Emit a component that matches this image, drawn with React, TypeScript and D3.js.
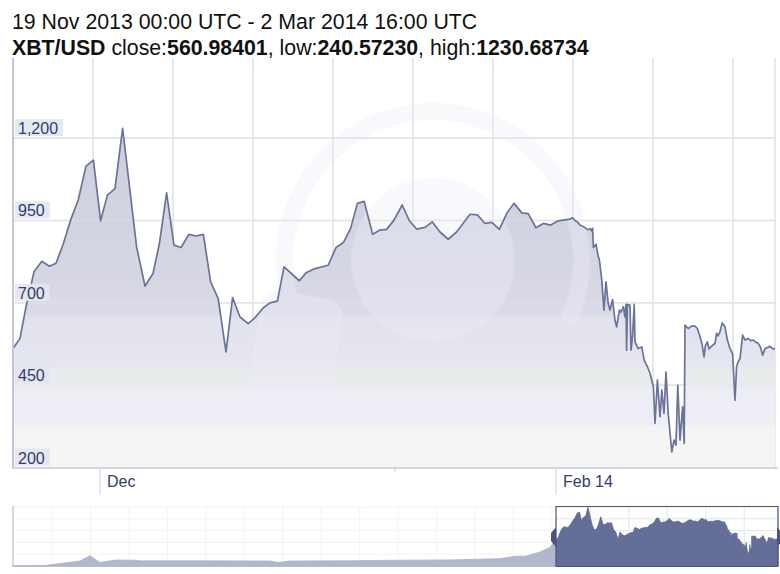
import React from "react";
import * as d3 from "d3";

// ---------- texts ----------
const rangeTitle = "19 Nov 2013 00:00 UTC - 2 Mar 2014 16:00 UTC";
const symbol = "XBT/USD";
const closeValue = "560.98401";
const lowValue = "240.57230";
const highValue = "1230.68734";

// ---------- axes ----------
const yTicks = [200, 450, 700, 950, 1200];
const xTickLabels = ["Dec", "Feb 14"];
const xTickSlots = [21.75, 135.75];
const minorTickSlots = [95.5];
const gridSlots = [20, 40, 60, 80, 100, 120, 140, 160, 180];

// ---------- main series (ordinal slot, price) ----------
const priceSlots = [
  0, 1.75, 3.25, 5.25, 7.2, 9.1, 10.75, 12.6, 14.4, 16.3, 18.25, 20.1, 21.9, 23.6, 25.5, 27.4,
  30.9, 33, 35, 36.6, 38.4, 40.25, 42, 44, 45.75, 47.6, 49.4, 51.3, 53.25, 54.9, 56.75, 58.8,
  60.5, 62.6, 64.25, 66.1, 67.75, 71.6, 73.25, 75.5, 78.8, 80.75, 82.6, 84.4, 86.1, 87.8, 89.9,
  91.75, 93.4, 95.25, 97.3, 99.1, 100.9, 103, 104.8, 106.75, 108.8, 110.9, 114.25, 116.1, 118,
  119.7, 121.6, 123.4, 125.25, 127.2, 128.8, 130.75, 132.6, 134.4, 136.3, 139.25, 139.9,
  140.5, 141.25, 141.75, 142.5, 143.25, 143.75, 144.4, 144.7, 144.9, 145.1, 145.75, 146.3,
  146.6, 147.2, 147.75, 148.25, 148.8, 149.25, 149.9, 150.5, 150.9, 151.6, 152, 152.6, 153,
  153.25, 153.4, 153.6, 154.25, 154.5, 154.9, 155.3, 155.5, 156.3, 157.2, 157.8, 158.6, 159.25,
  160.1, 160.5, 161.1, 161.75, 162.2, 162.75, 163.25, 163.8, 164.7, 165.25, 165.75, 166.2,
  166.75, 167.4, 167.8, 168, 168.8, 169.75, 170.5, 171.1, 171.75, 172.25, 172.75, 173.1, 173.6,
  174, 174.4, 175, 175.5, 175.9, 176.25, 176.75, 177.3, 178, 178.6, 179.25, 179.9, 180.5,
  180.9, 181.25, 181.75, 182.4, 183, 183.8, 184.5, 185.1, 185.75, 186.3, 186.9, 187.4, 188,
  188.75, 189.25, 190, 190.5,
];
const priceValues = [
  561, 592, 688, 794, 826, 811, 820, 880, 951, 1012, 1115, 1133, 949, 1027, 1047, 1230,
  870, 751, 789, 880, 1034, 875, 868, 908, 903, 908, 764, 713, 551, 716, 657, 637,
  655, 685, 700, 705, 809, 767, 791, 804, 814, 868, 883, 926, 1002, 1008, 908,
  921, 923, 951, 997, 949, 924, 929, 946, 915, 893, 915, 969, 967, 941,
  944, 923, 971, 1002, 973, 971, 928, 941, 936, 949, 954, 958,
  950, 944, 936, 932, 926, 922, 925, 918, 926, 868, 878, 842,
  830, 769, 678, 764, 698, 678, 710, 647, 627, 678, 672, 688, 657,
  695, 556, 695, 693, 556, 600, 695, 581, 561, 566, 526, 506, 486,
  445, 334, 465, 354, 435, 364, 490, 364, 247, 283, 268, 450,
  283, 384, 273, 632, 622, 630, 629, 622, 597, 575, 536, 570, 581,
  560, 566, 572, 577, 607, 600, 612, 639, 627, 587, 561, 546, 404,
  506, 520, 531, 602, 587, 592, 585, 587, 580, 577, 565, 541, 561,
  565, 568, 560, 561,
];

// ---------- navigator history (navigator slot, price) ----------
const historySlots = [0, 27.5, 40, 57.5, 66, 74.7, 87.5, 104.7, 109, 160.5, 220.6, 227.5, 237.8, 289.3, 332.2, 375, 418, 431, 439.5, 452.4, 461];
const historyValues = [5, 10, 50, 105, 215, 75, 125, 122, 108, 108, 106, 75, 105, 110, 122, 128, 155, 205, 205, 295, 395];
const navOffset = 466; // slot where the main series begins in the navigator
const navTotal = 656.5;

const W = 780;
const H = 574;

export default function App() {
  const x = d3.scaleLinear().domain([0, 190.5]).range([13, 775]);
  const y = d3.scaleLinear().domain([200, 1450]).range([467.5, 55.8]);

  const data = priceSlots.map((s, i) => ({ s, v: priceValues[i] }));
  const area = d3
    .area<{ s: number; v: number }>()
    .x((d) => x(d.s))
    .y0(y(200))
    .y1((d) => y(d.v));
  const line = d3
    .line<{ s: number; v: number }>()
    .x((d) => x(d.s))
    .y((d) => y(d.v));

  // navigator
  const nx = d3.scaleLinear().domain([0, navTotal]).range([13, 778]);
  const ny = d3.scaleLinear().domain([0, 1240]).range([566, 507]);
  const navData = [
    ...historySlots.map((s, i) => ({ s, v: historyValues[i] })),
    ...data.map((d) => ({ s: d.s + navOffset, v: d.v })),
  ];
  const navArea = d3
    .area<{ s: number; v: number }>()
    .x((d) => nx(d.s))
    .y0(ny(0))
    .y1((d) => ny(d.v));
  const navGrid = d3.range(33.5, navTotal, 33);
  const navHGrid = d3.range(0, 1241, 248);
  const selL = nx(navOffset);
  const selR = nx(navTotal);

  // watermark
  const wmCx = 433;
  const wmCy = 260;
  const ring = d3.arc()({ innerRadius: 140, outerRadius: 157, startAngle: -2.05, endAngle: 2.0 }) as string;

  const font = "Arial, 'Liberation Sans', Helvetica, sans-serif";
  const labelColor = "#323d6c";

  return (
    <div style={{ position: "fixed", left: 0, top: 0, width: W, height: H, background: "#fff" }}>
      <svg width={W} height={H} style={{ display: "block" }} fontFamily={font}>
        <defs>
          <linearGradient id="areaGrad" gradientUnits="userSpaceOnUse" x1="0" y1={y(1230)} x2="0" y2={y(200)}>
            <stop offset="0" stopColor="#cdcfde" />
            <stop offset="0.45" stopColor="#d6d7e3" />
            <stop offset="0.55" stopColor="#dbdce7" />
            <stop offset="0.56" stopColor="#e1e2ec" />
            <stop offset="0.7" stopColor="#e5e6ef" />
            <stop offset="0.71" stopColor="#e8ebeb" />
            <stop offset="0.76" stopColor="#e9ecec" />
            <stop offset="0.77" stopColor="#ecedf5" />
            <stop offset="0.87" stopColor="#eeeff6" />
            <stop offset="0.88" stopColor="#f4f4f5" />
            <stop offset="1" stopColor="#f5f5f6" />
          </linearGradient>
          <clipPath id="plotClip">
            <rect x={13} y={55} width={762} height={413} />
          </clipPath>
        </defs>

        {/* title */}
        <text x={12} y={29} fontSize={21.3} fill="#111">{rangeTitle}</text>
        <text x={12} y={55} fontSize={21.3} fill="#111">
          <tspan fontWeight="bold">{symbol}</tspan>
          <tspan> close:</tspan>
          <tspan fontWeight="bold">{closeValue}</tspan>
          <tspan>, low:</tspan>
          <tspan fontWeight="bold">{lowValue}</tspan>
          <tspan>, high:</tspan>
          <tspan fontWeight="bold">{highValue}</tspan>
        </text>

        {/* grid */}
        {gridSlots.map((g) => (
          <line key={"vg" + g} x1={x(g)} x2={x(g)} y1={58} y2={y(200)} stroke="#e3e3e6" strokeWidth={1.6} />
        ))}
        {yTicks.slice(1).map((t) => (
          <line key={"hg" + t} x1={13} x2={775} y1={y(t)} y2={y(t)} stroke="#e3e3e6" strokeWidth={1.6} />
        ))}
        <line x1={775} x2={775} y1={58} y2={y(200)} stroke="#dcdce2" strokeWidth={1.2} />

        {/* series */}
        <g clipPath="url(#plotClip)">
          <path d={area(data) as string} fill="url(#areaGrad)" />
          {/* watermark */}
          <g fill="#ededfa" opacity={0.38}>
            <path d={ring} transform={`translate(${wmCx},${wmCy})`} />
            <circle cx={wmCx} cy={wmCy} r={82} />
            <path d="M262,300 Q268,288 282,290 L330,300 Q344,304 342,318 L332,392 Q330,404 316,402 L258,392 Q246,390 248,378 Z" />
          </g>
          {yTicks.slice(1).map((t) => (
            <line key={"hg2" + t} x1={13} x2={775} y1={y(t)} y2={y(t)} stroke="#e3e3e6" strokeWidth={1.2} opacity={0.6} />
          ))}
          <path d={line(data) as string} fill="none" stroke="#6b7399" strokeWidth={1.7} strokeLinejoin="round" />
        </g>

        {/* axes lines */}
        <line x1={13} x2={13} y1={58} y2={y(200) + 1} stroke="#c3c6d8" strokeWidth={2} />
        <line x1={13} x2={778} y1={y(200) + 0.5} y2={y(200) + 0.5} stroke="#c6cad8" strokeWidth={1.6} />

        {/* y labels */}
        {yTicks.map((t) => {
          const label = d3.format(",")(t);
          const w = label.length * 8.9 + (label.includes(",") ? -4.45 : 0) + 8;
          return (
            <g key={"yl" + t}>
              <rect x={15} y={y(t) - 19} width={w} height={17} fill="#e3e5ee" opacity={0.9} />
              <text x={18} y={y(t) - 4} fontSize={16} fill={labelColor}>{label}</text>
            </g>
          );
        })}

        {/* x ticks and labels */}
        {xTickSlots.map((s, i) => (
          <g key={"xt" + i}>
            <line x1={x(s)} x2={x(s)} y1={y(200) + 1} y2={495} stroke="#d0d3dc" strokeWidth={1} />
            <text x={x(s) + 7} y={487} fontSize={16} fill={labelColor}>{xTickLabels[i]}</text>
          </g>
        ))}
        {minorTickSlots.map((s) => (
          <line key={"mt" + s} x1={x(s)} x2={x(s)} y1={y(200)} y2={y(200) + 4} stroke="#b8bccc" strokeWidth={1} />
        ))}

        {/* navigator */}
        <g>
          {navGrid.map((g) => (
            <line key={"ng" + g} x1={nx(g)} x2={nx(g)} y1={507} y2={566} stroke="#e6e6e8" strokeWidth={1} />
          ))}
          {navHGrid.map((g) => (
            <line key={"nh" + g} x1={13} x2={778} y1={ny(g)} y2={ny(g)} stroke="#e6e6e8" strokeWidth={1} />
          ))}
          <path d={navArea(navData) as string} fill="#656e98" stroke="#5d6690" strokeWidth={0.8} />
          <rect x={13} y={506} width={selL - 13} height={61} fill="#ffffff" opacity={0.5} />
          <line x1={13} x2={13} y1={506} y2={567} stroke="#b0b4c4" strokeWidth={1} />
          <line x1={13} x2={selL} y1={566.5} y2={566.5} stroke="#b8bccb" strokeWidth={1} />
          <path
            d={`M${selL},566.5 L${selL},506.5 L${selR},506.5 L${selR},566.5`}
            fill="none"
            stroke="#4a5380"
            strokeWidth={1.2}
          />
          <line x1={selL} x2={selR} y1={566.5} y2={566.5} stroke="#4a5380" strokeWidth={1} />
          <polygon
            points={`${selL},527 ${selL - 5},533 ${selL - 5},541 ${selL},547`}
            fill="#4a5380"
          />
          <polygon
            points={`${selR - 1},527 ${selR + 4},533 ${selR + 4},541 ${selR - 1},547`}
            fill="#4a5380"
          />
        </g>
      </svg>
    </div>
  );
}
